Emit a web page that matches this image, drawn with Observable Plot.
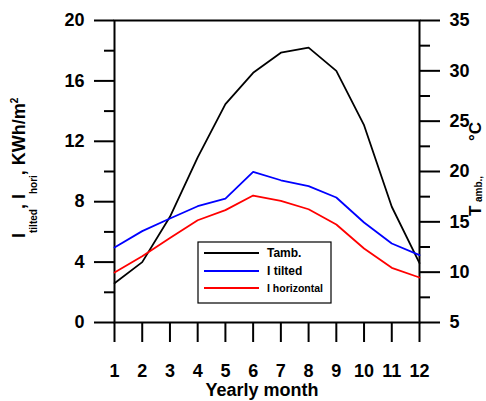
<!DOCTYPE html>
<html><head><meta charset="utf-8">
<script src="https://cdn.jsdelivr.net/npm/d3@7"></script>
<script src="https://cdn.jsdelivr.net/npm/@observablehq/plot@0.6"></script>
<style>
body{margin:0;background:#fff}
#chart{position:relative;width:486px;height:401px;overflow:hidden}
</style>
</head><body><div id="chart"></div>
<script>
// ---- data ----
const months = [1,2,3,4,5,6,7,8,9,10,11,12];
const tamb = [8.9, 11.0, 15.5, 21.4, 26.7, 29.8, 31.8, 32.3, 30.0, 24.6, 16.5, 10.9]; // °C, right axis
const iTilted = [4.97, 6.05, 6.89, 7.70, 8.21, 9.97, 9.42, 9.03, 8.28, 6.62, 5.23, 4.46]; // KWh/m², left axis
const iHoriz = [3.31, 4.39, 5.60, 6.77, 7.44, 8.41, 8.05, 7.50, 6.49, 4.90, 3.62, 2.98];
const seriesNames = ["Tamb.", "I tilted", "I horizontal"];
const seriesColors = ["#000000", "#0000ff", "#ff0000"];
const leftMajor = [0,4,8,12,16,20];
const leftMinor = [2,6,10,14,18];
const rightMajor = [5,10,15,20,25,30,35];
const rightMinor = [7.5,12.5,17.5,22.5,27.5,32.5];
const yDomain = [0, 20];
const tDomain = [5, 35];

// map temperature onto the left scale
const toLeft = t => (t - tDomain[0]) * (yDomain[1] - yDomain[0]) / (tDomain[1] - tDomain[0]) + yDomain[0];
const fromLeft = v => (v - yDomain[0]) * (tDomain[1] - tDomain[0]) / (yDomain[1] - yDomain[0]) + tDomain[0];

const rows = [];
months.forEach((m, i) => {
  rows.push({m, v: toLeft(tamb[i]), s: seriesNames[0]});
  rows.push({m, v: iTilted[i], s: seriesNames[1]});
  rows.push({m, v: iHoriz[i], s: seriesNames[2]});
});

const FONT = "'Liberation Sans', Arial, Helvetica, sans-serif";

const plot = Plot.plot({
  width: 486, height: 401,
  marginLeft: 114, marginRight: 67, marginTop: 20, marginBottom: 79,
  x: {domain: [1, 12]},
  y: {domain: yDomain},
  color: {domain: seriesNames, range: seriesColors},
  style: {fontFamily: FONT, fontSize: "18px", fontWeight: "bold", color: "#000", background: "#fff", overflow: "visible"},
  marks: [
    Plot.frame({stroke: "#000", strokeWidth: 2}),
    Plot.axisY({ticks: leftMajor, tickSize: 20, tickPadding: 10, strokeWidth: 2, label: null, tickFormat: d => String(d)}),
    Plot.axisY({ticks: leftMinor, tickSize: 10, strokeWidth: 2, label: null, tickFormat: () => ""}),
    Plot.axisY({anchor: "right", ticks: rightMajor.map(toLeft), tickSize: 20, tickPadding: 10, strokeWidth: 2, label: null, tickFormat: d => String(Math.round(fromLeft(d)))}),
    Plot.axisY({anchor: "right", ticks: rightMinor.map(toLeft), tickSize: 10, strokeWidth: 2, label: null, tickFormat: () => ""}),
    Plot.axisX({ticks: months, tickSize: 20, tickPadding: 22, strokeWidth: 2, label: null, tickFormat: d => String(d)}),
    Plot.line(rows, {x: "m", y: "v", z: "s", stroke: "s", strokeWidth: 1.8})
  ]
});

document.getElementById("chart").appendChild(plot);
const svg = d3.select(plot);
// make all axis tick labels bold Arial-like
svg.selectAll("text").attr("font-family", FONT).attr("font-weight", "bold").attr("font-size", 18);

function addText(transform, size, txt, anchor) {
  return svg.append("text").attr("transform", transform)
    .attr("font-family", FONT).attr("font-weight", "bold").attr("font-size", size)
    .attr("fill", "#000").attr("text-anchor", anchor || "start").text(txt);
}

// left axis title
const lt = addText("translate(25,238) rotate(-90)", 18, null, "start");
lt.append("tspan").text("I");
lt.append("tspan").attr("font-size", 10).attr("dy", 12).text("tilted");
lt.append("tspan").attr("dy", -12).text(", I");
lt.append("tspan").attr("font-size", 10).attr("dy", 12).text("hori");
lt.append("tspan").attr("dy", -12).text(", KWh/m");
lt.append("tspan").attr("font-size", 10).attr("dy", -7).text("2");

// right axis title
addText("translate(481,216) rotate(-90)", 17, "T");
addText("translate(482,202) rotate(-90)", 10, "amb.,");
addText("translate(481,141) rotate(-90)", 17, "°C");

// bottom axis title
addText("translate(262,396)", 18, "Yearly month", "middle");

// legend
const lg = svg.append("g");
lg.append("rect").attr("x", 198).attr("y", 242).attr("width", 133).attr("height", 61)
  .attr("fill", "#fff").attr("stroke", "#000").attr("stroke-width", 1.2);
const legY = [253, 271, 288];
const legSize = [12, 12, 10.5];
seriesNames.forEach((n, i) => {
  lg.append("line").attr("x1", 204).attr("x2", 259).attr("y1", legY[i]).attr("y2", legY[i])
    .attr("stroke", seriesColors[i]).attr("stroke-width", 1.8);
  lg.append("text").attr("x", 267).attr("y", legY[i] + 4).attr("font-family", FONT)
    .attr("text-anchor", "start").attr("font-weight", "bold").attr("font-size", legSize[i]).text(n);
});
</script>
</body></html>
